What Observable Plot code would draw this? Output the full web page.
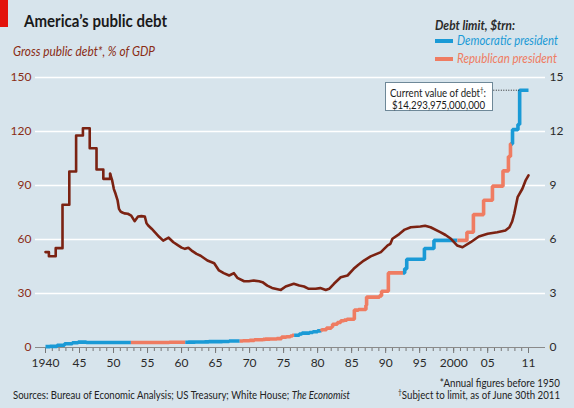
<!DOCTYPE html>
<html><head><meta charset="utf-8">
<script src="https://cdn.jsdelivr.net/npm/d3@7"></script>
<script src="https://cdn.jsdelivr.net/npm/@observablehq/plot@0.6"></script>
<style>
html,body{margin:0;padding:0;background:#d7e4ec;}
#c{position:relative;width:574px;height:408px;background:#d7e4ec;overflow:hidden;font-family:Lato,"Open Sans",sans-serif;}
#c svg{position:absolute;left:0;top:60px;}
.t{position:absolute;white-space:nowrap;line-height:1;transform-origin:0 50%;}
.r{transform-origin:100% 50%;}
#bar{position:absolute;left:0;top:0;width:8px;height:27px;background:#e3120b;}
#title{left:24px;top:12px;font-size:17.5px;font-weight:700;color:#1a1a1a;}
#sub{left:13px;top:46px;font-size:12.5px;font-style:italic;color:#8a2c14;}
#lt{left:435px;top:20px;font-size:12.5px;font-style:italic;font-weight:700;color:#2a2a2a;}
.sw{position:absolute;width:18px;height:3.5px;left:435px;}
#ld{left:457px;top:35px;font-size:12.5px;font-style:italic;color:#1a9ad6;}
#lr{left:457px;top:53px;font-size:12.5px;font-style:italic;color:#ef7c62;}
#box{position:absolute;left:385px;top:82px;width:108px;height:29px;background:#fff;border:1px solid #6e8898;box-sizing:border-box;}
#b1{left:4px;top:4px;font-size:11.5px;color:#1a1a1a;}
#b2{left:6px;top:16px;font-size:11.5px;color:#1a1a1a;}
#f1{right:14px;top:377px;font-size:11px;color:#222;}
#f2{right:14px;top:389px;font-size:11px;color:#222;}
#src{left:13px;top:389px;font-size:11px;color:#222;}
sup{font-size:7.5px;line-height:0;vertical-align:4px;}
</style></head><body><div id="c">
<div id="bar"></div>
<div class="t" id="title" data-w="143">America’s public debt</div>
<div class="t" id="sub" data-w="142">Gross public debt*, % of GDP</div>
<div class="t" id="lt" data-w="80">Debt limit, $trn:</div>
<div class="sw" style="top:39px;background:#1a9ad6"></div>
<div class="t" id="ld" data-w="101">Democratic president</div>
<div class="sw" style="top:57px;background:#ef7c62"></div>
<div class="t" id="lr" data-w="100">Republican president</div>
<div class="t r" id="f1" data-w="120">*Annual figures before 1950</div>
<div class="t r" id="f2" data-w="162"><sup>†</sup>Subject to limit, as of June 30th 2011</div>
<div class="t" id="src" data-w="337">Sources: Bureau of Economic Analysis; US Treasury; White House; <i>The Economist</i></div>
</div>
<script>
// ---- Gross public debt, % of GDP ----
// annual figures (before 1950), drawn as steps
const annualDates  = [1940.5, 1941, 1942, 1943, 1944, 1945, 1946, 1947, 1948, 1949];
const annualValues = [53, 50.7, 55.2, 79.3, 97.8, 117.8, 121.8, 110.7, 98.9, 93.7];
// quarterly figures from 1950
const qDates = [1950.0,1950.3,1950.55,1950.8,1951.1,1951.3,1951.55,1951.8,1952.1,1952.6,1953.1,1953.6,1954.1,1954.6,1955.1,1955.35,1955.6,1956.1,1956.6,1957.2,1957.8,1958.6,1959.3,1960.0,1960.5,1961.0,1961.5,1962.1,1962.7,1963.3,1964.3,1965.3,1966.0,1966.7,1967.5,1968.2,1968.7,1969.7,1970.4,1971.1,1971.9,1972.4,1973.1,1973.8,1975.1,1975.8,1977.0,1977.8,1978.5,1979.2,1980.2,1980.9,1981.7,1982.2,1982.9,1983.9,1984.9,1985.8,1986.5,1987.3,1988.3,1989.8,1990.8,1991.2,1991.5,1992.5,1993.3,1994.2,1995.6,1996.3,1997.1,1998.6,1999.3,2000.1,2001.0,2001.8,2003.0,2004.2,2005.5,2006.9,2008.1,2008.7,2009.1,2009.4,2009.9,2010.6,2011.1,2011.5];
const qValues = [96.5,92.8,88,85.4,81.7,77,75.5,75,74.5,74.3,73.3,70.2,72.8,73,72.8,69,67.8,66,64,61.5,59.4,61,58.5,56.7,55.5,54.8,55.4,53.5,52,51,48.3,46.8,42.8,41.3,40,41.3,38.7,36.8,36.8,37.2,36.8,36.3,34.4,33.1,32,33.9,35.4,34.4,33.9,32.6,32.6,33,32,32.6,35.4,39,40,43.7,46,48.3,50.6,53,56.7,57.6,60.4,63,65.5,66.8,67.2,67.6,66.8,64,62.5,60.4,56.7,55.7,58.5,61.7,63.2,64,65,66.8,70,74.3,83.5,88.2,93,95.6];

// ---- Debt limit, $trn ----
const limitDates = [1940.5,1941.15,1942.2,1943.3,1944.45,1945.3,1946.5,1954.6,1956.5,1957.5,
  1958.15,1958.7,1959.5,1960.5,1961.5,1962.2,1962.5,1963.4,1963.5,1963.9,
  1964.5,1965.5,1966.5,1967.2,1967.5,1969.5,1970.5,1971.2,1972.5,1972.8,
  1973.5,1974.5,1975.2,1975.9,1976.5,1976.8,1977.8,1978.2,1979.3,1979.8,
  1980.5,1980.9,1981.1,1981.8,1982.5,1982.7,1983.4,1983.9,1984.4,1984.8,
  1985.9,1986.5,1987.6,1987.7,1989.6,1989.9,1990.9,1993.3,1993.6,1996.2,
  1997.6,2002.45,2003.4,2004.9,2006.2,2007.75,2008.55,2008.85,2009.15,2009.95,
  2010.2];
const limitValues = [0.049,0.065,0.125,0.21,0.26,0.30,0.275,0.281,0.278,0.275,
  0.28,0.288,0.295,0.293,0.298,0.30,0.308,0.305,0.309,0.315,
  0.324,0.328,0.33,0.336,0.358,0.377,0.395,0.43,0.45,0.465,
  0.475,0.495,0.577,0.595,0.636,0.682,0.752,0.798,0.83,0.879,
  0.925,0.935,0.985,1.079,1.143,1.29,1.389,1.49,1.52,1.573,
  2.079,2.111,2.352,2.8,2.87,3.123,4.145,4.37,4.9,5.5,
  5.95,6.4,7.384,8.184,8.965,9.815,10.615,11.315,12.104,12.394,
  14.294];
const limitEnd = 2011.5;
const currentDebt = 14.293975; // $trn
const annotFrom = 2006.4;

// ---- Presidents' party ----
const partyStart = [1940.5,1953.05,1961.05,1969.05,1977.05,1981.05,1993.05,2001.05,2009.05];
const partyName  = ["Democratic president","Republican president","Democratic president","Republican president","Democratic president","Republican president","Democratic president","Republican president","Democratic president"];

// ---- Axes ----
const yTicks = [0, 30, 60, 90, 120, 150];
const minorYears = d3.range(1940, 2012);
const labelYears = [1940,1945,1950,1955,1960,1965,1970,1975,1980,1985,1990,1995,2000,2005,2011];
const labelText  = ["1940","45","50","55","60","65","70","75","80","85","90","95","2000","05","11"];

const BROWN = "#7b2212", BLUE = "#1a9ad6", SALMON = "#ef7c62";

// build tables
const annual = annualDates.map((t,i)=>({t, v: annualValues[i]}));
annual.push({t: qDates[0], v: qValues[0]});
const quarterly = qDates.map((t,i)=>({t, v: qValues[i]}));
const valAt = t => { let v = limitValues[0]; limitDates.forEach((d,k)=>{ if (d <= t) v = limitValues[k]; }); return v; };
const limitRows = [];
partyStart.forEach((s,i)=>{
  const e = i+1 < partyStart.length ? partyStart[i+1] : limitEnd;
  limitRows.push({t:s, v: valAt(s)*10, seg:i, party: partyName[i]});
  limitDates.forEach((d,k)=>{ if (d > s && d < e) limitRows.push({t:d, v: limitValues[k]*10, seg:i, party: partyName[i]}); });
  limitRows.push({t:e, v: valAt(e-1e-6)*10, seg:i, party: partyName[i]});
});

const chart = Plot.plot({
  width: 574, height: 320,
  marginLeft: 35, marginRight: 29, marginTop: 17, marginBottom: 33,
  x: {domain: [1940.5, 2011.5], range: [45, 528]},
  y: {domain: [0, 150]},
  color: {domain: ["Democratic president","Republican president"], range: [BLUE, SALMON]},
  style: {background: "transparent", fontFamily: "Lato, sans-serif", fontSize: "12px", overflow: "visible"},
  marks: [
    Plot.ruleY(yTicks.filter(d=>d>0), {stroke: "#ffffff", strokeWidth: 1.3}),
    Plot.axisY({ticks: yTicks, tickSize: 0, tickPadding: 4, label: null, fill: "#8a2c14"}),
    Plot.axisY({anchor: "right", ticks: yTicks, tickSize: 0, tickPadding: 4, label: null, fill: "#2a2a2a", tickFormat: d => d/10}),
    Plot.axisX({ticks: minorYears.map(y=>y+0.5), tickSize: 4, tickFormat: () => "", label: null, stroke: "#777"}),
    Plot.axisX({ticks: labelYears.map(y=>y+0.5), tickSize: 6, tickPadding: 5, label: null, stroke: "#777", fill: "#2a2a2a",
      tickFormat: d => labelText[labelYears.indexOf(Math.round(d-0.5))]}),
    Plot.ruleY([0], {stroke: "#8a8a8a", strokeWidth: 1.2}),
    Plot.line(limitRows, {x: "t", y: "v", z: "seg", stroke: "party", strokeWidth: 3.6, curve: "step-after", strokeLinecap: "butt", strokeLinejoin: "miter"}),
    Plot.ruleY([currentDebt*10], {x1: annotFrom, x2: limitDates[limitDates.length-1], stroke: "#222", strokeWidth: 1, strokeDasharray: "1,1.5"}),
    Plot.line(annual, {x: "t", y: "v", stroke: BROWN, strokeWidth: 2.6, curve: "step-after"}),
    Plot.line(quarterly, {x: "t", y: "v", stroke: BROWN, strokeWidth: 2.6})
  ]
});
const C = document.getElementById("c");
C.appendChild(chart);
const box = document.createElement("div");
box.id = "box";
box.innerHTML = "<div class='t' id='b1' data-w='96'>Current value of debt<sup>†</sup>:</div><div class='t' id='b2' data-w='93'>$14,293,975,000,000</div>";
C.appendChild(box);
// condense texts to the reference's narrow typeface widths
document.querySelectorAll("[data-w]").forEach(el => {
  const w = el.getBoundingClientRect().width;
  const target = +el.dataset.w;
  if (w > 0) el.style.transform = `scaleX(${target / w})`;
});
</script>
</body></html>
